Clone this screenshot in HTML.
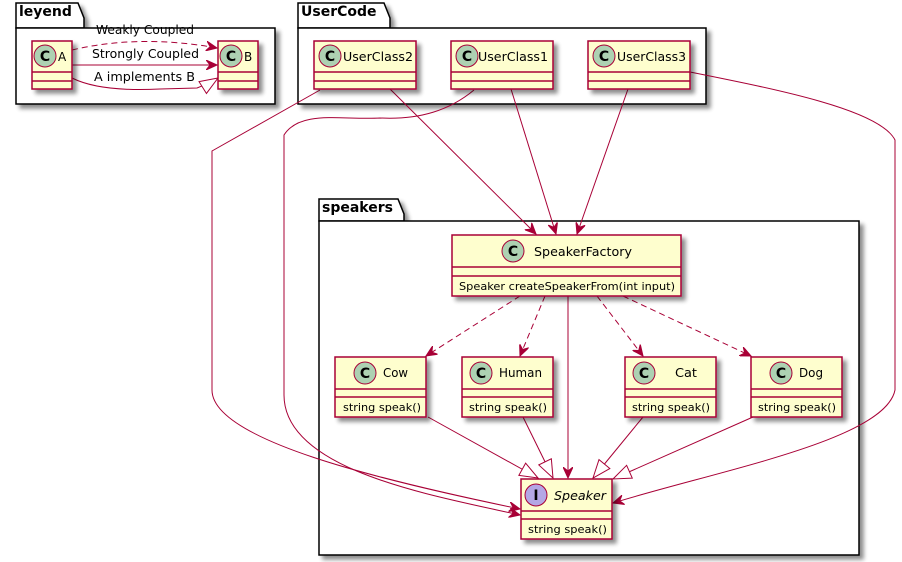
<!DOCTYPE html>
<html><head><meta charset="utf-8"><style>
body{margin:0;background:#fff}
svg{display:block}
text{font-family:"DejaVu Sans","Liberation Sans",sans-serif}
</style></head><body>
<svg width="902" height="562" viewBox="0 0 902 562" xmlns="http://www.w3.org/2000/svg">
<defs>
<filter id="sh" x="-20%" y="-20%" width="150%" height="150%"><feGaussianBlur in="SourceAlpha" stdDeviation="2"/><feOffset dx="4" dy="4"/><feComponentTransfer><feFuncA type="linear" slope="0.45"/></feComponentTransfer><feMerge><feMergeNode/><feMergeNode in="SourceGraphic"/></feMerge></filter>
<marker id="ar" viewBox="0 0 12 10" refX="11" refY="5" markerWidth="12" markerHeight="10" markerUnits="userSpaceOnUse" orient="auto"><path d="M0,0 L11,5 L0,10 L4,5 Z" fill="#A80036" stroke="#A80036"/></marker>
<marker id="tr" viewBox="0 0 20 20" refX="19" refY="10" markerWidth="20" markerHeight="20" markerUnits="userSpaceOnUse" orient="auto"><path d="M1,3 L19,10 L1,17 Z" fill="#fff" stroke="#A80036"/></marker>
</defs>

<g fill="#fff" stroke="#000" stroke-width="1.5" filter="url(#sh)">
<path d="M16,3 H78 L84,18 V28 H16 Z"/><rect x="16" y="28" width="259" height="76"/>
<path d="M298,3 H384 L390,18 V28 H298 Z"/><rect x="298" y="28" width="408" height="76"/>
<path d="M319,199 H398 L404,214 V221 H319 Z"/><rect x="319" y="221" width="540" height="334"/>
</g>
<g font-weight="bold" font-size="14" fill="#000">
<text x="19" y="16">leyend</text><text x="301" y="16">UserCode</text><text x="322" y="212">speakers</text>
</g>

<g fill="none" stroke="#A80036" stroke-width="1">
<path d="M72,50 Q140,34 217,48" stroke-dasharray="6,4" marker-end="url(#ar)"/>
<path d="M72,65 L217,65" marker-end="url(#ar)"/>
<path d="M72,78 Q100,92 160,89 L197,88 Q210,83 218,78" marker-end="url(#tr)"/>

<path d="M390,89 L536,234" marker-end="url(#ar)"/>
<path d="M511,89 L556,234" marker-end="url(#ar)"/>
<path d="M628,89 L577,234" marker-end="url(#ar)"/>
<path d="M320,90 L212,151 L212,390 C212,440 380,480 520,509" marker-end="url(#ar)"/>
<path d="M474,90 C450,110 420,120 380,118 C340,120 300,110 284,135 L284,395 C284,470 430,495 520,515" marker-end="url(#ar)"/>
<path d="M690,72 C780,90 880,110 895,140 L895,390 C885,440 720,470 613,503" marker-end="url(#ar)"/>

<path d="M520,296 L426,356" stroke-dasharray="6,4" marker-end="url(#ar)"/>
<path d="M545,296 L520,356" stroke-dasharray="6,4" marker-end="url(#ar)"/>
<path d="M568,296 L568,478" marker-end="url(#ar)"/>
<path d="M597,296 L643,356" stroke-dasharray="6,4" marker-end="url(#ar)"/>
<path d="M623,296 L751,356" stroke-dasharray="6,4" marker-end="url(#ar)"/>

<path d="M428,417 L538,478" marker-end="url(#tr)"/>
<path d="M523,417 L553,478" marker-end="url(#tr)"/>
<path d="M643,417 L593,478" marker-end="url(#tr)"/>
<path d="M753,417 L613,479" marker-end="url(#tr)"/>
</g>
<g font-size="12" fill="#000" lengthAdjust="spacingAndGlyphs">
<text x="96" y="34" textLength="98" lengthAdjust="spacingAndGlyphs">Weakly Coupled</text>
<text x="92" y="58" textLength="107" lengthAdjust="spacingAndGlyphs">Strongly Coupled</text>
<text x="94" y="81" textLength="101" lengthAdjust="spacingAndGlyphs">A implements B</text>
</g>

<g fill="#FEFECE" stroke="#A80036" stroke-width="1.5" filter="url(#sh)">
<rect x="32" y="41" width="40" height="48"/><rect x="218" y="41" width="40" height="48"/>
<rect x="314" y="41" width="102" height="48"/><rect x="451" y="41" width="102" height="48"/><rect x="588" y="41" width="102" height="48"/>
<rect x="452" y="235" width="229" height="61"/>
<rect x="335" y="357" width="91" height="60"/><rect x="462" y="357" width="91" height="60"/>
<rect x="625" y="357" width="91" height="60"/><rect x="751" y="357" width="91" height="60"/>
<rect x="521" y="479" width="91" height="60"/>
</g>
<g stroke="#A80036" stroke-width="1.5">
<path d="M32,72H72M32,81H72M218,72H258M218,81H258"/>
<path d="M314,72H416M314,81H416M451,72H553M451,81H553M588,72H690M588,81H690"/>
<path d="M452,267H681M452,276H681"/>
<path d="M335,389H426M335,397H426M462,389H553M462,397H553M625,389H716M625,397H716M751,389H842M751,397H842"/>
<path d="M521,511H612M521,519H612"/>
</g>
<g fill="#ADD1B2" stroke="#A80036" stroke-width="1">
<circle cx="45" cy="56" r="11"/><circle cx="231" cy="56" r="11"/>
<circle cx="330" cy="56" r="11"/><circle cx="467" cy="56" r="11"/><circle cx="604" cy="56" r="11"/>
<circle cx="513" cy="251" r="11"/>
<circle cx="365" cy="373" r="11"/><circle cx="481" cy="373" r="11"/><circle cx="644" cy="373" r="11"/><circle cx="781" cy="373" r="11"/>
<circle cx="536" cy="495" r="11" fill="#B4A7E5"/>
</g>
<g font-size="14" font-weight="bold" text-anchor="middle" fill="#000" font-family="Liberation Sans, sans-serif">
<text x="45" y="61">C</text><text x="231" y="61">C</text>
<text x="330" y="61">C</text><text x="467" y="61">C</text><text x="604" y="61">C</text>
<text x="513" y="256">C</text>
<text x="365" y="378">C</text><text x="481" y="378">C</text><text x="644" y="378">C</text><text x="781" y="378">C</text>
<text x="536" y="500">I</text>
</g>
<g font-size="12" fill="#000">
<text x="58" y="61">A</text><text x="244" y="61">B</text>
<text x="343" y="61" textLength="70" lengthAdjust="spacingAndGlyphs">UserClass2</text>
<text x="478" y="61" textLength="70" lengthAdjust="spacingAndGlyphs">UserClass1</text>
<text x="617" y="61" textLength="69" lengthAdjust="spacingAndGlyphs">UserClass3</text>
<text x="534" y="256" textLength="98" lengthAdjust="spacingAndGlyphs">SpeakerFactory</text>
<text x="383" y="377" textLength="25" lengthAdjust="spacingAndGlyphs">Cow</text>
<text x="499" y="377" textLength="43" lengthAdjust="spacingAndGlyphs">Human</text>
<text x="675" y="377" textLength="22" lengthAdjust="spacingAndGlyphs">Cat</text>
<text x="799" y="377" textLength="24" lengthAdjust="spacingAndGlyphs">Dog</text>
<text x="554" y="500" font-style="italic" textLength="52" lengthAdjust="spacingAndGlyphs">Speaker</text>
</g>
<g font-size="11" fill="#000">
<text x="459" y="290" textLength="216" lengthAdjust="spacingAndGlyphs">Speaker createSpeakerFrom(int input)</text>
<text x="343" y="411" textLength="78" lengthAdjust="spacingAndGlyphs">string speak()</text>
<text x="469" y="411" textLength="78" lengthAdjust="spacingAndGlyphs">string speak()</text>
<text x="632" y="411" textLength="78" lengthAdjust="spacingAndGlyphs">string speak()</text>
<text x="758" y="411" textLength="78" lengthAdjust="spacingAndGlyphs">string speak()</text>
<text x="528" y="533" textLength="79" lengthAdjust="spacingAndGlyphs">string speak()</text>
</g>
</svg>
</body></html>
